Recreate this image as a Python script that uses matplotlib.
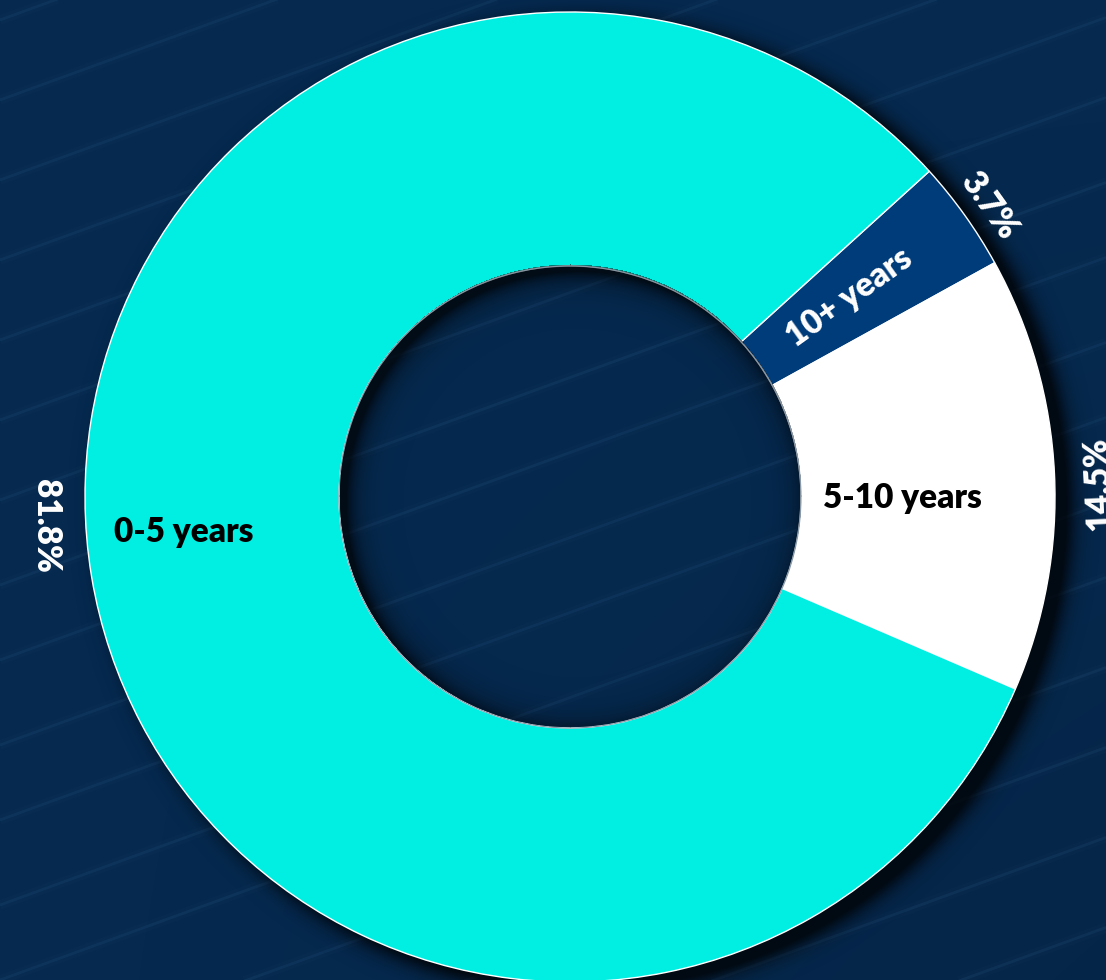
import numpy as np
import matplotlib
matplotlib.use("Agg")
import matplotlib.pyplot as plt

# ---- data ----
categories = ["10+ years", "5-10 years", "0-5 years"]
values = [3.7, 14.5, 81.8]
pct_labels = [f"{v}%" for v in values]

# ---- style ----
W, H = 1106, 980
CX, CY = 570, 980 - 497
R_OUT, R_IN = 485, 231
START = 42.2
colors = ["#003B7A", "#FFFFFF", "#00EFE2"]
text_colors = ["white", "black", "black"]
BG = "#062A50"
FONT = ["Lato", "DejaVu Sans"]

fig = plt.figure(figsize=(W / 100, H / 100), dpi=100)
ax = fig.add_axes([0, 0, 1, 1])

# background with subtle gradient
yy, xx = np.mgrid[0:H, 0:W]
base = np.array([6, 42, 80]) / 255.0
shade = 1.0 - 0.10 * (xx / W) * (1 - yy / H)
bg = base[None, None, :] * shade[..., None]
ax.imshow(bg, extent=(0, W, 0, H), origin="lower", zorder=0, interpolation="bilinear")

# diagonal faint stripes
slope = np.tan(np.radians(20))
xs = np.array([0, W])
offsets = [-520, -430, -350, -260, -170, -90, 0, 75, 160, 235, 320, 395, 480, 560, 640, 720, 800, 880, 960]
for b in offsets:
    ys = b + slope * xs
    ax.plot(xs, ys, color="#3a6a95", lw=7, alpha=0.04, zorder=1, solid_capstyle="butt")
    ax.plot(xs, ys, color="#3f74a3", lw=2, alpha=0.12, zorder=1, solid_capstyle="butt")

# outer drop shadow (not inside the hole)
dist_c = np.hypot(xx - CX, yy - CY)
d = np.hypot(xx - (CX + 14), yy - (CY - 10)) - (R_OUT - 4)
alpha = 0.75 * np.exp(-(np.clip(d, 0, None) / 12.0) ** 1.5)
alpha = np.where(dist_c <= R_IN + 2, 0.0, alpha)
sh = np.zeros((H, W, 4))
sh[..., 3] = alpha
ax.imshow(sh, extent=(0, W, 0, H), origin="lower", zorder=2, interpolation="bilinear")

# donut
wedges, _ = ax.pie(values, startangle=START, counterclock=False, colors=colors,
                   radius=R_OUT, center=(CX, CY), frame=True,
                   wedgeprops=dict(width=R_OUT - R_IN, edgecolor="white", linewidth=1.0))
for w in wedges:
    w.set_zorder(3)
ax.set_xlim(0, W)
ax.set_ylim(0, H)
ax.axis("off")

# inner shadow in the hole
ds = R_IN - np.hypot(xx - (CX + 7), yy - (CY - 7))
ia = np.where(ds < 0, 0.7, 0.7 * np.exp(-np.clip(ds, 0, None) / 11.0))
ia = np.where(dist_c <= R_IN, ia, 0.0)
ish = np.zeros((H, W, 4))
ish[..., 3] = ia
ax.imshow(ish, extent=(0, W, 0, H), origin="lower", zorder=4, interpolation="bilinear")
hole = plt.Circle((CX, CY), R_IN, fill=False, edgecolor="#8a9aa8", lw=0.8, zorder=5)
ax.add_patch(hole)

# angles
cum = np.cumsum([0] + values)
mids = [START - 360 * (cum[i] + cum[i + 1]) / 200 for i in range(len(values))]

# category labels: (radius, angle offset, rotation)
cat_pos = [(343, 0.0, "radial"), (332, -3.0, 0.0), (388, -4.2, 0.0)]
for i, (lab, (r, off, rot)) in enumerate(zip(categories, cat_pos)):
    a = np.radians(mids[i] + off)
    rr = mids[i] if rot == "radial" else rot
    ax.text(CX + r * np.cos(a), CY + r * np.sin(a), lab, color=text_colors[i],
            fontsize=24, fontweight="heavy", family=FONT, ha="center", va="center",
            rotation=rr, rotation_mode="anchor", zorder=6)

# percentage labels: (radius, angle offset, rotation)
pct_pos = [(511, -0.7, mids[0] - 90), (528, -1.3, mids[1] + 90), (525, -6.3, -90)]
for i, (lab, (r, off, rot)) in enumerate(zip(pct_labels, pct_pos)):
    a = np.radians(mids[i] + off)
    ax.text(CX + r * np.cos(a), CY + r * np.sin(a), lab, color="white",
            fontsize=24, fontweight="heavy", family=FONT, ha="center", va="center",
            rotation=rot, rotation_mode="anchor", zorder=6)

fig.savefig("out.png", dpi=100, facecolor=BG)
